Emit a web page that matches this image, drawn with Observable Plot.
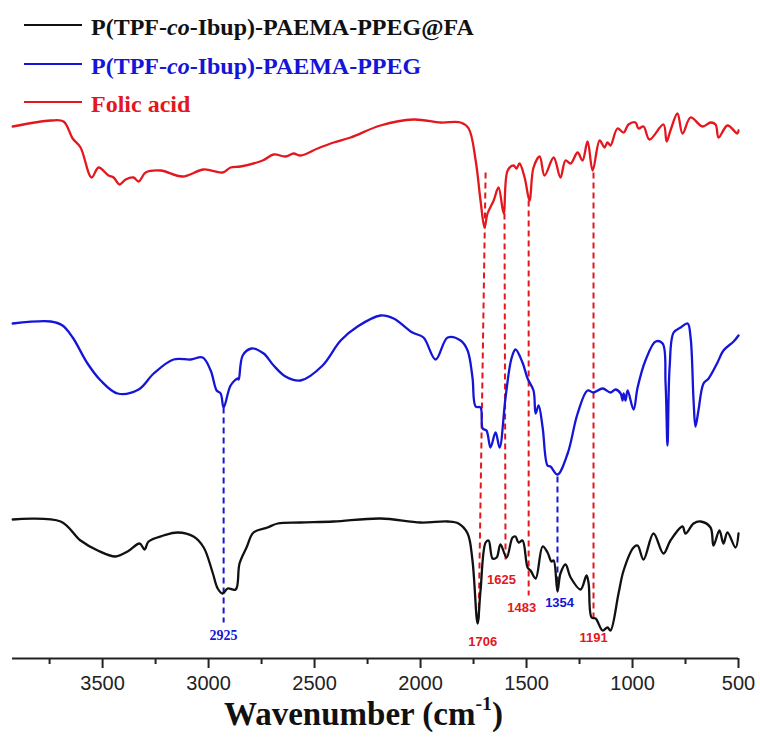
<!DOCTYPE html>
<html>
<head>
<meta charset="utf-8">
<script src="https://cdn.jsdelivr.net/npm/d3@7"></script>
<script src="https://cdn.jsdelivr.net/npm/@observablehq/plot@0.6"></script>
<style>
  body { margin: 0; background: #fff; }
  #wrap { position: relative; width: 760px; height: 738px; overflow: hidden; }
  #chart { position: absolute; left: 0; top: 0; }
  .leg { position: absolute; left: 0; height: 24px; font: bold 24px "Liberation Serif", "Times New Roman", serif; line-height: 24px; white-space: nowrap; }
  .leg .tx { position: absolute; left: 91px; top: 0; }
  .sw { position: absolute; left: 24px; width: 58px; height: 0; border-top: 2.5px solid; }
  #xlabel { position: absolute; left: 0; width: 727px; top: 704px; height: 20px; text-align: center; font: bold 33px "Liberation Serif", "Times New Roman", serif; line-height: 20px; color: #111; white-space: nowrap; }
  #xlabel sup { font-size: 0.6em; line-height: 0; position: relative; top: -0.78em; vertical-align: baseline; }
</style>
</head>
<body>
<div id="wrap">
  <div id="chart"></div>
  <div class="sw" style="top:24px;border-color:#111"></div>
  <div class="leg" style="top:15px;color:#111"><span class="tx">P(TPF-<i>co</i>-Ibup)-PAEMA-PPEG@FA</span></div>
  <div class="sw" style="top:63px;border-color:#1515d8"></div>
  <div class="leg" style="top:54px;color:#1515d8"><span class="tx">P(TPF-<i>co</i>-Ibup)-PAEMA-PPEG</span></div>
  <div class="sw" style="top:101px;border-color:#e3171d"></div>
  <div class="leg" style="top:92px;color:#e3171d"><span class="tx">Folic acid</span></div>
  <div id="xlabel">Wavenumber (cm<sup>-1</sup>)</div>
</div>
<script>
// ---- Data (wavenumber in cm^-1, transmittance in arbitrary units, traces offset) ----
const redWn = [3924,3745,3684,3641,3604,3552,3519,3472,3448,3420,3391,3354,3330,3297,3226,3123,3023,2934,2896,2849,2745,2693,2637,2599,2566,2486,2410,2330,2189,2033,1905,1811,1773,1740,1717,1698,1684,1655,1632,1608,1589,1561,1547,1533,1509,1486,1467,1438,1415,1372,1340,1316,1292,1259,1236,1212,1188,1155,1132,1118,1104,1071,1042,1019,986,972,948,920,854,839,821,788,764,726,670,632,608,594,552,505,500];
const redT  = [574,580,579,562,553,523,533,525,523,516,521,523,519,528,530,524,531,528,533,534,540,546,544,547,545,552,558,563,575,581,578,578,572,540,500,473,487,500,513,487,530,535,532,537,523,500,533,544,525,543,523,540,537,548,540,559,530,560,553,558,555,572,568,576,578,572,574,561,576,559,570,587,567,583,574,578,576,563,575,567,570];

const blueWn = [3924,3745,3689,3641,3571,3509,3429,3330,3259,3165,3085,3028,2990,2962,2943,2929,2896,2863,2858,2839,2797,2740,2693,2637,2566,2462,2377,2297,2189,2127,2038,1986,1929,1872,1811,1778,1755,1740,1717,1707,1689,1670,1646,1627,1599,1571,1552,1519,1495,1467,1457,1443,1424,1401,1387,1354,1306,1259,1212,1184,1141,1104,1080,1056,1047,1042,1033,1023,995,976,939,891,858,844,835,825,806,773,740,726,712,703,689,665,641,599,571,523,500];
const blueT  = [377,379,375,363,337,320,307,311,327,341,341,343,330,310,307,293,315,322,321,345,352,347,335,324,320,335,360,374,385,382,368,363,341,363,360,350,323,294,293,272,270,253,268,253,303,342,351,338,322,310,287,295,273,235,234,226,247,287,310,308,312,308,311,307,300,307,300,310,291,313,340,359,357,317,255,333,368,373,377,363,300,274,290,317,322,338,350,359,365];

const blackWn = [3924,3698,3604,3523,3439,3382,3325,3302,3283,3212,3146,3071,3023,2981,2957,2934,2910,2872,2854,2821,2788,2722,2674,2566,2410,2189,2000,1872,1821,1778,1755,1731,1717,1693,1679,1660,1641,1623,1594,1566,1552,1538,1519,1495,1481,1457,1424,1401,1382,1372,1354,1340,1316,1292,1245,1217,1207,1193,1174,1141,1118,1104,1066,1042,995,976,948,901,854,821,764,750,712,679,632,618,590,571,552,514,500];
const blackT  = [181,179,160,150,144,149,157,151,159,165,168,164,153,128,112,107,112,111,137,153,168,173,177,178,179,182,178,179,177,167,140,77,110,158,160,142,143,156,143,163,164,158,160,133,130,122,154,148,139,140,109,127,136,123,111,125,117,83,82,70,73,70,107,130,153,155,141,167,147,160,174,167,177,179,173,155,170,157,168,153,167];

// dashed guide lines (wavenumber at top / bottom, transmittance at top / bottom)
const guideSeries = ["red","red","red","red","blue","blue"];
const guideWnTop  = [1693,1604,1490,1184,2929,1354];
const guideWnBot  = [1726,1599,1490,1184,2929,1354];
const guideTTop   = [528,487,500,528,293,224];
const guideTBot   = [78,138,105,78,78,110];

// peak labels
const peakText   = ["1706","1625","1483","1191","1354","2925"];
const peakSeries = ["red","red","red","red","blue","blue"];
const peakWn     = [1707,1618,1523,1184,1344,2929];
const peakT      = [59,121,93,63,98,65];

const majorTicks = [3500,3000,2500,2000,1500,1000,500];
const minorTicks = [3750,3250,2750,2250,1750,1250,750];

// ---- build tables ----
const toRows = (wn, t) => wn.map((w, i) => ({wn: w, t: t[i]}));
const red = toRows(redWn, redT), blue = toRows(blueWn, blueT), black = toRows(blackWn, blackT);
const guides = guideSeries.map((s, i) => ({s, x1: guideWnTop[i], x2: guideWnBot[i], y1: guideTTop[i], y2: guideTBot[i]}));
const peaks = peakText.map((t, i) => ({t, s: peakSeries[i], wn: peakWn[i], y: peakT[i]}));

const COL = {red: "#e3171d", blue: "#1515d8", black: "#111"};
const Y0 = 42;

const chart = Plot.plot({
  width: 760, height: 700,
  marginLeft: 12, marginRight: 22, marginTop: 0, marginBottom: 42,
  x: {domain: [3925, 500], axis: null},
  y: {domain: [Y0, 700], axis: null},
  style: {background: "transparent", color: "#222"},
  marks: [
    Plot.link(guides, {x1: "x1", y1: "y1", x2: "x2", y2: "y2", stroke: d => COL[d.s], strokeWidth: 2, strokeDasharray: "6,4"}),
    Plot.line(red,   {x: "wn", y: "t", stroke: COL.red,   strokeWidth: 2.3, curve: "catmull-rom"}),
    Plot.line(blue,  {x: "wn", y: "t", stroke: COL.blue,  strokeWidth: 2.3, curve: "catmull-rom"}),
    Plot.line(black, {x: "wn", y: "t", stroke: COL.black, strokeWidth: 2.3, curve: "catmull-rom"}),
    Plot.text(peaks.filter(d => d.t !== "2925"), {x: "wn", y: "y", text: "t", fill: d => COL[d.s], fontSize: 13, fontWeight: "bold", fontFamily: "Liberation Sans, Arial, sans-serif"}),
    Plot.text(peaks.filter(d => d.t === "2925"), {x: "wn", y: "y", text: "t", fill: d => COL[d.s], fontSize: 14, fontWeight: "bold", fontFamily: "Liberation Serif, Times New Roman, serif"}),
    Plot.ruleY([Y0], {stroke: "#222", strokeWidth: 2}),
    Plot.axisX(minorTicks, {tickSize: 6, strokeWidth: 2, tickFormat: () => "", label: null}),
    Plot.axisX(majorTicks, {tickSize: 10, tickPadding: 7, strokeWidth: 2, tickFormat: d => String(d), fontSize: 20, fontFamily: "Liberation Sans, Arial, sans-serif", label: null})
  ]
});
document.getElementById("chart").appendChild(chart);
</script>
</body>
</html>
